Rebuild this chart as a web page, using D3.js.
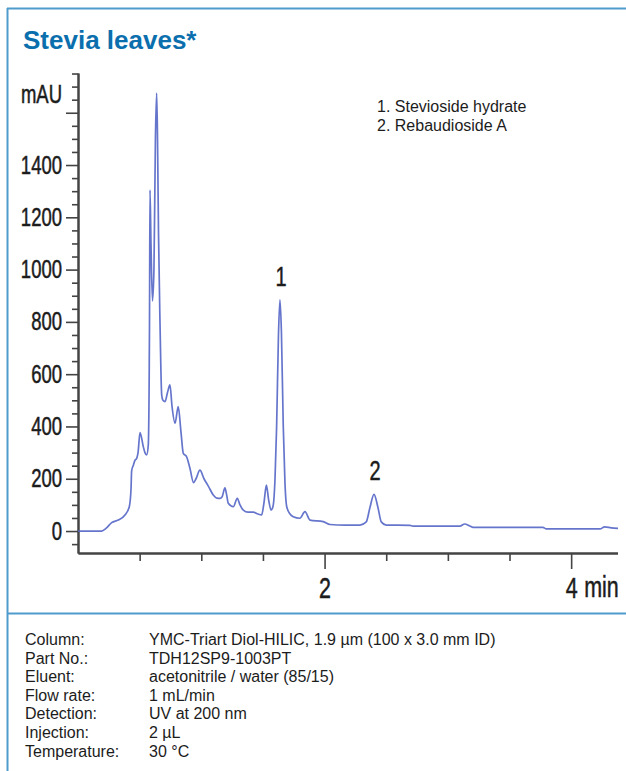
<!DOCTYPE html>
<html>
<head>
<meta charset="utf-8">
<script src="https://cdn.jsdelivr.net/npm/d3@7/dist/d3.min.js"></script>
<style>
  html, body { margin: 0; padding: 0; background: #fff; }
  svg { display: block; }
</style>
</head>
<body>
<svg id="chart" width="626" height="771"></svg>
<script>
// ---- data ----
const title = "Stevia leaves*";
const yAxisLabel = "mAU";
const xUnitLabel = "min";
// retention time (min)
const times = [0, 0.192, 0.227, 0.273, 0.327, 0.381, 0.416, 0.430, 0.435, 0.449, 0.462, 0.476, 0.487, 0.503, 0.530, 0.543, 0.557, 0.570, 0.580, 0.584, 0.592, 0.604, 0.616, 0.628, 0.638, 0.645, 0.653, 0.665, 0.679, 0.689, 0.706, 0.726, 0.746, 0.762, 0.787, 0.813, 0.835, 0.854, 0.881, 0.908, 0.937, 0.957, 0.989, 1.022, 1.057, 1.097, 1.127, 1.152, 1.168, 1.192, 1.205, 1.219, 1.260, 1.292, 1.314, 1.341, 1.379, 1.422, 1.460, 1.490, 1.509, 1.528, 1.546, 1.566, 1.582, 1.598, 1.611, 1.626, 1.638, 1.650, 1.665, 1.679, 1.693, 1.720, 1.746, 1.800, 1.841, 1.882, 1.989, 2.044, 2.165, 2.287, 2.338, 2.368, 2.401, 2.433, 2.460, 2.500, 2.693, 2.717, 3.098, 3.136, 3.179, 3.204, 3.771, 3.798, 4.234, 4.272, 4.325, 4.380];
// absorbance (mAU)
const absorbance = [0, 0, 10, 32, 42, 61, 93, 160, 230, 252, 270, 278, 300, 377, 322, 300, 291, 329, 800, 1304, 1100, 880, 1000, 1500, 1675, 1500, 1140, 800, 520, 500, 495, 530, 559, 480, 413, 476, 380, 297, 284, 240, 185, 200, 233, 200, 172, 138, 126, 125, 130, 165, 140, 106, 93, 125, 100, 80, 72, 72, 65, 62, 110, 176, 120, 80, 95, 200, 399, 750, 884, 760, 400, 180, 93, 65, 55, 49, 74, 42, 36, 25, 23, 23, 35, 90, 140, 90, 35, 23, 22, 19, 19, 27, 19, 14, 14, 8, 8, 16, 12, 10];
const peakNames = ["1", "2"];
const peakTimes = [1.638, 2.401];
const peakHeights = [884, 140];
const legendLines = ["1. Stevioside hydrate", "2. Rebaudioside A"];
const yMajorTicks = [0, 200, 400, 600, 800, 1000, 1200, 1400, 1600];
const yLabeledTicks = [0, 200, 400, 600, 800, 1000, 1200, 1400];
const yMinorTicks = [-50, 50, 100, 150, 250, 300, 350, 450, 500, 550, 650, 700, 750, 850, 900, 950, 1050, 1100, 1150, 1250, 1300, 1350, 1450, 1500, 1550, 1650, 1700, 1750];
const xMajorTicks = [2, 4];
const xMinorTicks = [0.5, 1, 1.5, 2.5, 3, 3.5];
const condLabels = ["Column:", "Part No.:", "Eluent:", "Flow rate:", "Detection:", "Injection:", "Temperature:"];
const condValues = ["YMC-Triart Diol-HILIC, 1.9 µm (100 x 3.0 mm ID)", "TDH12SP9-1003PT", "acetonitrile / water (85/15)", "1 mL/min", "UV at 200 nm", "2 µL", "30 °C"];

// ---- drawing ----
const svg = d3.select("#chart");
const frameColor = "#4f9bcb";
const textColor = "#1c1c1c";
const axisColor = "#444";
const sans = "'Liberation Sans', Arial, Helvetica, sans-serif";
const SX = 0.74; // horizontal condensation of chart labels

// frame
svg.append("line").attr("x1", 7).attr("x2", 626).attr("y1", 8.5).attr("y2", 8.5)
  .attr("stroke", frameColor).attr("stroke-width", 2);
svg.append("line").attr("x1", 7.5).attr("x2", 7.5).attr("y1", 8).attr("y2", 771)
  .attr("stroke", frameColor).attr("stroke-width", 2);
svg.append("line").attr("x1", 7).attr("x2", 626).attr("y1", 613.5).attr("y2", 613.5)
  .attr("stroke", frameColor).attr("stroke-width", 2);

// title
svg.append("text").attr("x", 23).attr("y", 49).text(title)
  .attr("font-family", sans).attr("font-weight", "bold").attr("font-size", 26)
  .attr("fill", "#0b6fae");

const x = d3.scaleLinear().domain([0, 4.38]).range([78, 618]);
const y = d3.scaleLinear().domain([-84, 1752]).range([553, 73]);

svg.append("defs").append("clipPath").attr("id", "clipR")
  .append("rect").attr("x", 0).attr("y", 0).attr("width", 618).attr("height", 612);

const g = svg.append("g").attr("clip-path", "url(#clipR)");

// condensed text helper: places text at (px,py) squeezed horizontally
function condensedText(parent, px, py, str, size, anchor) {
  return parent.append("text")
    .attr("transform", `translate(${px},${py}) scale(${SX},1)`)
    .attr("text-anchor", anchor || "start")
    .attr("font-family", sans).attr("font-size", size).attr("fill", textColor)
    .attr("stroke", textColor).attr("stroke-width", 0.5)
    .text(str);
}

function styleAxis(sel) {
  sel.selectAll("path.domain").attr("stroke", axisColor).attr("stroke-width", 2);
  sel.selectAll(".tick line").attr("stroke", axisColor).attr("stroke-width", 1.6);
  sel.selectAll("text").attr("fill", textColor).attr("font-family", sans)
    .attr("stroke", textColor).attr("stroke-width", 0.5);
}

// y axis
const yMinor = g.append("g").attr("transform", "translate(78,0)")
  .call(d3.axisLeft(y).tickValues(yMinorTicks).tickSize(6).tickSizeOuter(0).tickFormat(""));
styleAxis(yMinor);
const yMajor = g.append("g").attr("transform", "translate(78,0)")
  .call(d3.axisLeft(y).tickValues(yMajorTicks).tickSize(12).tickSizeOuter(0).tickPadding(4)
    .tickFormat(d => yLabeledTicks.includes(d) ? String(d) : ""));
styleAxis(yMajor);
yMajor.selectAll(".tick text")
  .attr("font-size", 25)
  .attr("transform", function () { return `translate(${+d3.select(this).attr("x")},0) scale(${SX},1)`; })
  .attr("x", 0);

// x axis
const xMinor = g.append("g").attr("transform", "translate(0,553)")
  .call(d3.axisBottom(x).tickValues(xMinorTicks).tickSize(8).tickSizeOuter(0).tickFormat(""));
styleAxis(xMinor);
const xMajor = g.append("g").attr("transform", "translate(0,553)")
  .call(d3.axisBottom(x).tickValues(xMajorTicks).tickSize(16).tickSizeOuter(0).tickPadding(8)
    .tickFormat(d => String(d)));
styleAxis(xMajor);
xMajor.selectAll(".tick text").attr("font-size", 29).attr("transform", `scale(${SX},1)`);

// unit label (kept inside the picture)
condensedText(svg, x(4) + 13, 597, xUnitLabel, 29, "start");

// y label
condensedText(svg, 62, 103, yAxisLabel, 25, "end");

// trace
const pts = times.map((t, i) => [t, absorbance[i]]);
const line = d3.line().x(d => x(d[0])).y(d => y(d[1])).curve(d3.curveMonotoneX);
g.append("path").datum(pts).attr("d", line)
  .attr("fill", "none").attr("stroke", "#5566c6").attr("stroke-width", 1.7)
  .attr("stroke-opacity", 0.9).attr("stroke-linejoin", "round");

// peak labels
peakNames.forEach((n, i) => {
  condensedText(g, x(peakTimes[i]) + 1, y(peakHeights[i]) - 14, n, 27, "middle");
});

// legend
legendLines.forEach((s, i) => {
  svg.append("text").attr("x", 377).attr("y", 112 + i * 18.5).text(s)
    .attr("font-family", sans).attr("font-size", 16).attr("fill", textColor);
});

// conditions
condLabels.forEach((s, i) => {
  svg.append("text").attr("x", 25).attr("y", 645 + i * 18.6).text(s)
    .attr("font-family", sans).attr("font-size", 16).attr("fill", textColor);
  svg.append("text").attr("x", 149).attr("y", 645 + i * 18.6).text(condValues[i])
    .attr("font-family", sans).attr("font-size", 16).attr("fill", textColor);
});
</script>
</body>
</html>
